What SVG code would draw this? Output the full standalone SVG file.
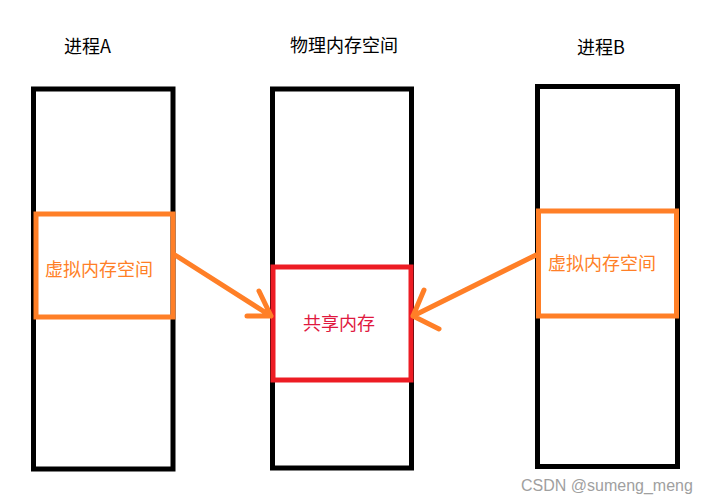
<svg xmlns="http://www.w3.org/2000/svg" width="707" height="504" viewBox="0 0 707 504">
<style>
.mem{fill:none;stroke:#000;stroke-width:5}
.vm{fill:none;stroke:#ff7f27;stroke-width:5}
.sh{fill:none;stroke:#ed1c24;stroke-width:5}
.t{font-family:"Noto Sans CJK SC","Noto Sans",sans-serif;font-size:18px;fill:#000}
.to{font-family:"Noto Sans CJK SC","Noto Sans",sans-serif;font-size:18px;fill:#ff7f27}
.tr{font-family:"Noto Sans CJK SC","Noto Sans",sans-serif;font-size:18px;fill:#e0193f}
.arr{fill:none;stroke:#ff7f27;stroke-width:5;stroke-linecap:round;stroke-linejoin:round}
</style>
<rect width="707" height="504" fill="#fff"/>
<g id="procA">
<text class="t" x="64" y="53">进程A</text>
<rect class="mem" x="33.5" y="89" width="139.5" height="380"/>
</g>
<g id="physical">
<text class="t" x="290" y="52">物理内存空间</text>
<rect class="mem" x="272.5" y="89" width="139" height="379"/>
</g>
<g id="procB">
<text class="t" x="577" y="54">进程B</text>
<rect class="mem" x="537.5" y="86.5" width="140" height="380"/>
</g>
<g id="vmA">
<rect class="vm" x="36" y="214" width="137" height="103"/>
<text class="to" x="45" y="276">虚拟内存空间</text>
</g>
<g id="shared">
<rect class="sh" x="273" y="267" width="138" height="113"/>
<text class="tr" x="303" y="330">共享内存</text>
</g>
<g id="vmB">
<rect class="vm" x="538.5" y="211" width="138" height="105"/>
<text class="to" x="548" y="270">虚拟内存空间</text>
</g>
<g id="connectors">
<path class="arr" d="M175 255 L271 316 M259 291 L271 316 L247 316"/>
<path class="arr" d="M536 255 L413 316 M424 290 L413 316 L439 329"/>
</g>
<text x="521" y="491" font-family="Liberation Sans, Arial, sans-serif" font-size="16" fill="#a0a0a0">CSDN @sumeng_meng</text>
</svg>
